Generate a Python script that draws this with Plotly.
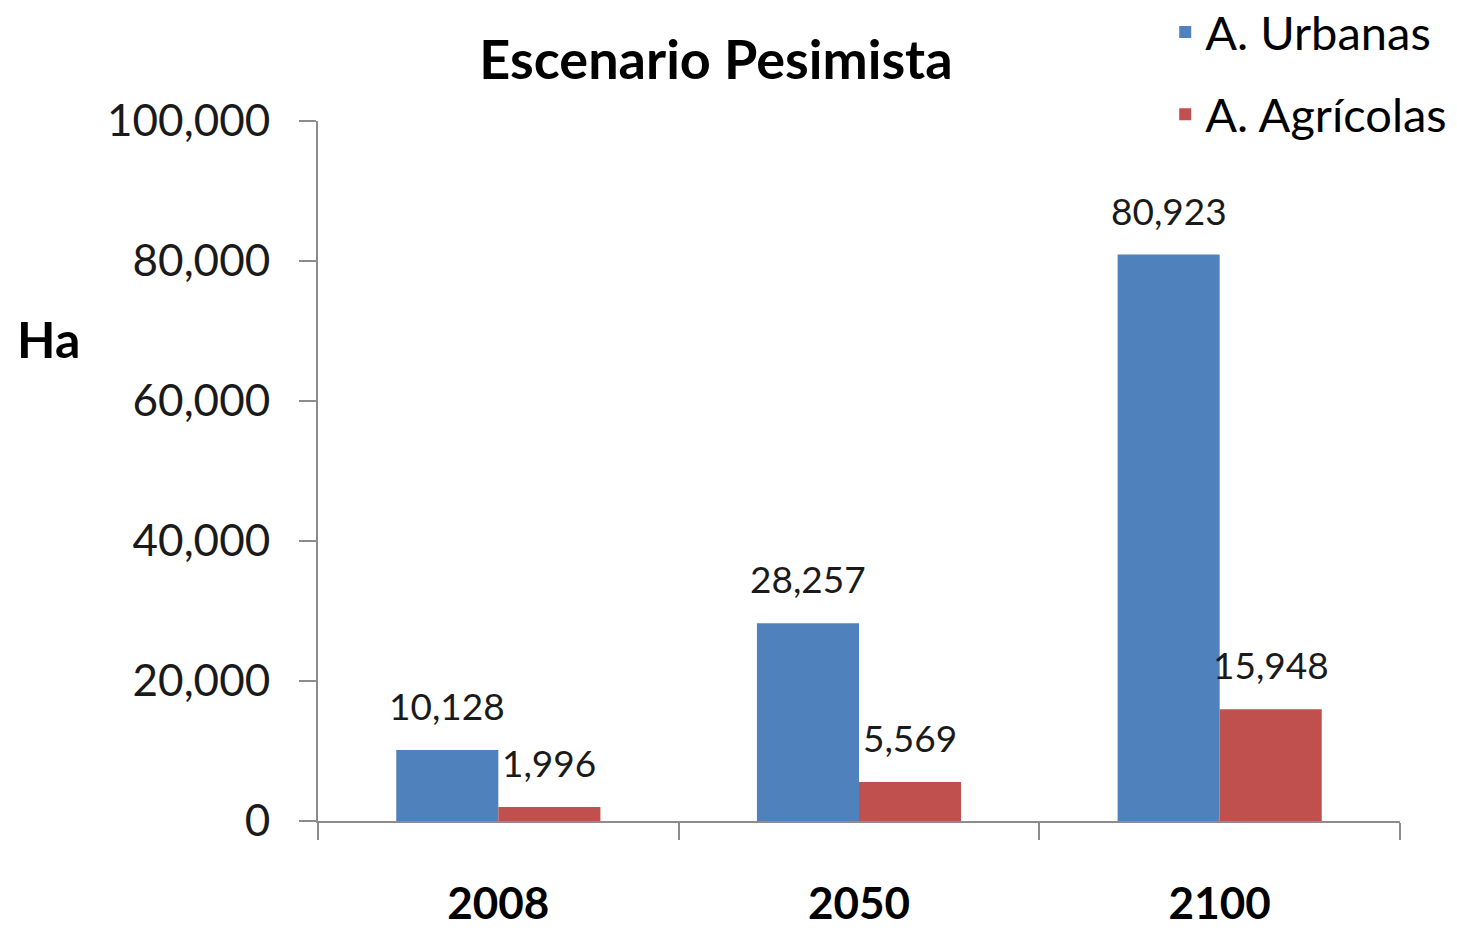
import plotly.graph_objects as go

years = ["2008", "2050", "2100"]
urbanas = [10128, 28257, 80923]
agricolas = [1996, 5569, 15948]
series_names = ["A. Urbanas", "A. Agrícolas"]
colors = ["#4F81BD", "#C0504D"]
y_ticks = [0, 20000, 40000, 60000, 80000, 100000]

FONT = "Lato"
AXIS_COLOR = "#8C8C8C"

fig = go.Figure()
for name, vals, col, grp in zip(series_names, [urbanas, agricolas], colors, ["u", "a"]):
    fig.add_trace(go.Bar(
        x=years, y=vals, name=name, legendgroup=grp,
        marker=dict(color=col, line=dict(width=0)),
        hoverinfo="x+y+name",
    ))

# data labels above each bar
for i, vals in enumerate([urbanas, agricolas]):
    for j, v in enumerate(vals):
        fig.add_annotation(
            x=j, y=v, xref="x", yref="y",
            text=f"{v:,}", showarrow=False,
            xanchor="center", yanchor="bottom",
            xshift=(-51 if i == 0 else 51), yshift=20,
            font=dict(family=FONT, size=37, color="#1a1a1a"),
        )

# horizontal y-axis title
fig.add_annotation(
    text="<b>Ha</b>", xref="paper", yref="paper",
    x=-0.28, y=0.689, xanchor="left", yanchor="middle",
    showarrow=False, font=dict(family=FONT, size=50, color="#000000"),
)

fig.update_layout(
    width=1457, height=931,
    paper_bgcolor="white", plot_bgcolor="white",
    margin=dict(l=318, r=57, t=121, b=110, autoexpand=False),
    barmode="group", bargap=0.434, bargroupgap=0,
    title=dict(
        text="<b>Escenario Pesimista</b>",
        x=716 / 1457, xref="container", xanchor="center",
        y=1 - 60 / 931, yref="container", yanchor="middle",
        font=dict(family=FONT, size=54, color="#000000"),
    ),
    showlegend=True,
    legend=dict(
        x=0.783, y=1.18, xanchor="left", yanchor="top",
        font=dict(family=FONT, size=47, color="#000000"),
        tracegroupgap=18, bgcolor="rgba(0,0,0,0)",
    ),
    xaxis=dict(
        type="category", range=[-0.5, 2.5],
        showline=True, linecolor=AXIS_COLOR, linewidth=2,
        ticks="outside", tickson="boundaries", ticklen=17, tickwidth=2, tickcolor=AXIS_COLOR,
        tickfont=dict(family=FONT, size=44, color="#000000", weight="bold"),
        ticklabelstandoff=43,
        showgrid=False, zeroline=False,
    ),
    yaxis=dict(
        range=[0, 100000], tickvals=y_ticks, tickformat=",",
        showline=True, linecolor=AXIS_COLOR, linewidth=2,
        ticks="outside", ticklen=17, tickwidth=2, tickcolor=AXIS_COLOR,
        tickfont=dict(family=FONT, size=44, color="#1a1a1a"),
        ticklabelstandoff=20,
        showgrid=False, zeroline=False,
    ),
)

fig.write_html(
    "out.html",
    config={"displayModeBar": False},
    post_script="document.body.style.margin='0px';",
)
